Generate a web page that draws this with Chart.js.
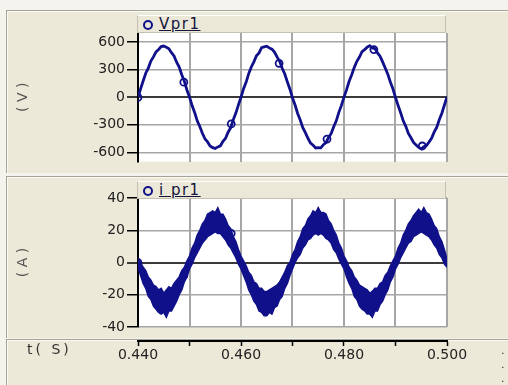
<!DOCTYPE html>
<html>
<head>
<meta charset="utf-8">
<script src="https://cdn.jsdelivr.net/npm/chart.js@4.4.1/dist/chart.umd.min.js"></script>
<style>
  body { margin: 0; width: 508px; height: 385px; background: #f4f3ed; position: relative; overflow: hidden; font-family: 'DejaVu Sans', sans-serif; }
  .panel { position: absolute; background: #ece9d8; border-top: 1px solid #a5a395; border-left: 1px solid #a5a395; box-shadow: inset 1px 1px 0 #fbfaf5; }
  canvas { position: absolute; left: 0; }
  .legend { position: absolute; left: 137px; width: 307px; height: 16px; background: #ebe8d7; border: 1px solid #c4c1b2; border-top-color: #fff; z-index: 2; }
  .legend .mark { position: absolute; left: 5px; top: 4px; width: 6px; height: 6px; border: 2px solid #10108a; border-radius: 50%; }
  .legend .name { position: absolute; left: 21px; top: -1px; font-size: 15px; letter-spacing: 1.5px; color: #14143c; text-decoration: underline; }
  .tlabel { position: absolute; left: 27px; top: 341px; font-size: 14px; letter-spacing: 3px; color: #333; }
  .dots { position: absolute; left: 501px; top: 344px; font-size: 11px; line-height: 14px; color: #333; }
</style>
</head>
<body>
<div class="panel" style="left:6px; top:10px; width:502px; height:162px;"></div>
<div class="panel" style="left:6px; top:176px; width:502px; height:161px;"></div>
<div class="panel" style="left:6px; top:339px; width:502px; height:46px;"></div>

<canvas id="chartV" width="508" height="172" style="top:0px;"></canvas>
<canvas id="chartI" width="508" height="162" style="top:176px;"></canvas>
<canvas id="chartT" width="508" height="55" style="top:330px;"></canvas>

<div class="legend" style="top:15px;"><span class="mark"></span><span class="name">Vpr1</span></div>
<div class="legend" style="top:181px;"><span class="mark"></span><span class="name">i pr1</span></div>
<div class="tlabel">t( S)</div>
<div class="dots">.<br>.<br>.</div>

<script>
// sample times (s)
const times = [
  0.4400, 0.4405, 0.4410, 0.4415, 0.4420, 0.4425, 0.4430, 0.4435, 0.4440, 0.4445,
  0.4450, 0.4455, 0.4460, 0.4465, 0.4470, 0.4475, 0.4480, 0.4485, 0.4490, 0.4495,
  0.4500, 0.4505, 0.4510, 0.4515, 0.4520, 0.4525, 0.4530, 0.4535, 0.4540, 0.4545,
  0.4550, 0.4555, 0.4560, 0.4565, 0.4570, 0.4575, 0.4580, 0.4585, 0.4590, 0.4595,
  0.4600, 0.4605, 0.4610, 0.4615, 0.4620, 0.4625, 0.4630, 0.4635, 0.4640, 0.4645,
  0.4650, 0.4655, 0.4660, 0.4665, 0.4670, 0.4675, 0.4680, 0.4685, 0.4690, 0.4695,
  0.4700, 0.4705, 0.4710, 0.4715, 0.4720, 0.4725, 0.4730, 0.4735, 0.4740, 0.4745,
  0.4750, 0.4755, 0.4760, 0.4765, 0.4770, 0.4775, 0.4780, 0.4785, 0.4790, 0.4795,
  0.4800, 0.4805, 0.4810, 0.4815, 0.4820, 0.4825, 0.4830, 0.4835, 0.4840, 0.4845,
  0.4850, 0.4855, 0.4860, 0.4865, 0.4870, 0.4875, 0.4880, 0.4885, 0.4890, 0.4895,
  0.4900, 0.4905, 0.4910, 0.4915, 0.4920, 0.4925, 0.4930, 0.4935, 0.4940, 0.4945,
  0.4950, 0.4955, 0.4960, 0.4965, 0.4970, 0.4975, 0.4980, 0.4985, 0.4990, 0.4995,
  0.5000
];

// Vpr1 (V)
const vpr1 = [
  0, 92, 178, 262, 318, 395, 440, 495, 520, 552,
  558, 546, 528, 486, 450, 382, 328, 246, 176, 80,
  4, -90, -165, -256, -318, -392, -452, -486, -530, -548,
  -556, -540, -528, -480, -446, -380, -330, -244, -172, -82,
  0, 94, 166, 258, 330, 386, 452, 484, 540, 548,
  556, 538, 524, 492, 440, 392, 316, 254, 168, 88,
  -6, -84, -176, -248, -330, -384, -446, -498, -522, -552,
  -548, -550, -516, -494, -436, -394, -320, -256, -164, -88,
  2, 84, 174, 246, 326, 392, 438, 496, 518, 546,
  562, 536, 530, 484, 448, 386, 318, 252, 166, 92,
  -2, -88, -168, -256, -316, -394, -440, -492, -520, -546,
  -560, -538, -526, -488, -446, -380, -328, -244, -174, -84,
  4
];

// i pr1 (A): upper and lower edge of the ripple band
const ipr1Upper = [
  2, 0, -3, -5, -9, -11, -14, -15, -17, -16,
  -19, -17, -15, -16, -13, -11, -9, -5, -3, 1,
  4, 9, 12, 17, 20, 24, 26, 30, 31, 32,
  31, 34, 30, 30, 27, 23, 21, 16, 13, 8,
  4, 1, -2, -6, -8, -12, -13, -16, -16, -18,
  -18, -17, -16, -15, -14, -12, -9, -6, -2, 0,
  5, 8, 13, 16, 21, 23, 27, 29, 32, 31,
  34, 31, 31, 30, 26, 24, 20, 17, 12, 9,
  4, 1, -3, -5, -9, -11, -14, -15, -16, -17,
  -19, -18, -16, -16, -13, -12, -8, -6, -2, 1,
  4, 9, 12, 17, 20, 24, 26, 29, 31, 33,
  31, 34, 31, 30, 27, 23, 21, 16, 13, 8,
  2
];
const ipr1Lower = [
  -3, -8, -13, -16, -21, -23, -27, -29, -31, -32,
  -31, -34, -30, -30, -27, -24, -20, -17, -12, -9,
  -4, -1, 3, 6, 9, 12, 14, 16, 17, 18,
  19, 18, 18, 16, 14, 11, 9, 6, 3, -1,
  -4, -8, -12, -17, -20, -24, -26, -30, -31, -33,
  -33, -31, -32, -28, -27, -23, -21, -16, -13, -8,
  -4, 0, 3, 5, 9, 11, 14, 15, 17, 18,
  17, 18, 17, 15, 14, 12, 8, 6, 2, -1,
  -4, -9, -13, -16, -21, -23, -27, -29, -30, -32,
  -32, -34, -30, -30, -26, -24, -20, -17, -12, -9,
  -4, -1, 3, 6, 9, 12, 13, 16, 17, 18,
  19, 18, 17, 16, 14, 11, 9, 5, 3, -1,
  -3
];

// marker circles
const markTimes = [0.4400, 0.4489, 0.4581, 0.4674, 0.4767, 0.4858, 0.4952];
const markV = [0, 165, -290, 370, -455, 520, -530];
const markI = [0, -8, 18, -18, 21, -20, 24];

// axes
const xGrid = [0.44, 0.45, 0.46, 0.47, 0.48, 0.49, 0.50];
const xTickLabels = ['0.440', '', '0.460', '', '0.480', '', '0.500'];
const vTicks = [-600, -300, 0, 300, 600];
const iTicks = [-40, -20, 0, 20, 40];

const NAVY = '#10108a';
const tickFont = { family: 'DejaVu Sans', size: 14 };

function pts(xs, ys) {
  return xs.map((x, i) => ({ x: x, y: ys[i] }));
}

const plotBg = {
  id: 'plotBg',
  beforeDraw(chart) {
    const { ctx, chartArea: a } = chart;
    ctx.save();
    ctx.fillStyle = '#ffffff';
    ctx.fillRect(a.left, a.top, a.right - a.left, a.bottom - a.top);
    ctx.restore();
  }
};

function xScale() {
  return {
    type: 'linear',
    min: 0.44,
    max: 0.50,
    afterBuildTicks: s => { s.ticks = xGrid.map(v => ({ value: v })); },
    afterFit: s => { s.height = 0; },
    ticks: { display: false },
    grid: {
      color: c => (c.tick && c.tick.value === 0.44) ? 'rgba(0,0,0,0)' : '#a6a6a6',
      lineWidth: 2,
      drawTicks: false
    },
    border: { display: false }
  };
}

function yScale(min, max, tickValues, titleText) {
  return {
    type: 'linear',
    min: min,
    max: max,
    afterBuildTicks: s => { s.ticks = tickValues.map(v => ({ value: v })); },
    afterFit: s => { s.width = 138; },
    ticks: { color: '#222', font: tickFont, padding: 2 },
    grid: {
      color: c => (c.tick && c.tick.value === 0) ? '#3a3a3a' : '#a6a6a6',
      lineWidth: c => (c.tick && c.tick.value === 0) ? 2 : 1.5,
      tickColor: '#000',
      tickLength: 11,
      tickWidth: 1.5
    },
    border: { color: '#000', width: 2 },
    title: {
      display: true,
      text: titleText,
      color: '#555',
      font: { family: 'DejaVu Sans', size: 14 },
      padding: { top: 15, bottom: 0 }
    }
  };
}

const baseOptions = (padTop, padBottom, yCfg) => ({
  responsive: false,
  animation: false,
  devicePixelRatio: 1,
  layout: { padding: { left: 0, right: 61, top: padTop, bottom: padBottom } },
  plugins: { legend: { display: false }, tooltip: { enabled: false } },
  scales: { x: xScale(), y: yCfg }
});

new Chart(document.getElementById('chartV'), {
  type: 'line',
  data: {
    datasets: [
      {
        data: pts(times, vpr1),
        borderColor: NAVY,
        borderWidth: 2.8,
        pointRadius: 0,
        tension: 0,
        fill: false
      },
      {
        data: pts(markTimes, markV),
        showLine: false,
        pointRadius: 3.5,
        pointBorderWidth: 1.8,
        pointBorderColor: NAVY,
        pointBackgroundColor: 'rgba(0,0,0,0)'
      }
    ]
  },
  options: baseOptions(33, 8, yScale(-700, 700, vTicks, '( V )')),
  plugins: [plotBg]
});

new Chart(document.getElementById('chartI'), {
  type: 'line',
  data: {
    datasets: [
      {
        data: pts(times, ipr1Upper),
        borderColor: NAVY,
        borderWidth: 1.5,
        backgroundColor: NAVY,
        pointRadius: 0,
        tension: 0,
        fill: '+1'
      },
      {
        data: pts(times, ipr1Lower),
        borderColor: NAVY,
        borderWidth: 1.5,
        pointRadius: 0,
        tension: 0,
        fill: false
      },
      {
        data: pts(markTimes, markI),
        showLine: false,
        pointRadius: 3.5,
        pointBorderWidth: 1.8,
        pointBorderColor: NAVY,
        pointBackgroundColor: 'rgba(0,0,0,0)'
      }
    ]
  },
  options: baseOptions(22, 11, yScale(-40, 40, iTicks, '( A )')),
  plugins: [plotBg]
});

// shared time axis strip
new Chart(document.getElementById('chartT'), {
  type: 'line',
  data: { datasets: [] },
  options: {
    responsive: false,
    animation: false,
    devicePixelRatio: 1,
    layout: { padding: { left: 138, right: 61, top: 9, bottom: 0 } },
    plugins: { legend: { display: false }, tooltip: { enabled: false } },
    scales: {
      x: {
        type: 'linear',
        position: 'bottom',
        min: 0.44,
        max: 0.50,
        afterBuildTicks: s => { s.ticks = xGrid.map(v => ({ value: v })); },
        afterFit: s => { s.height = 44; },
        ticks: {
          autoSkip: false,
          maxRotation: 0,
          padding: 1,
          color: '#222',
          font: tickFont,
          callback: (v, i) => xTickLabels[i]
        },
        grid: { drawOnChartArea: false, tickLength: 5, tickColor: '#000', tickWidth: 1.5 },
        border: { color: '#000', width: 2 }
      },
      y: { display: false }
    }
  }
});
</script>
</body>
</html>
